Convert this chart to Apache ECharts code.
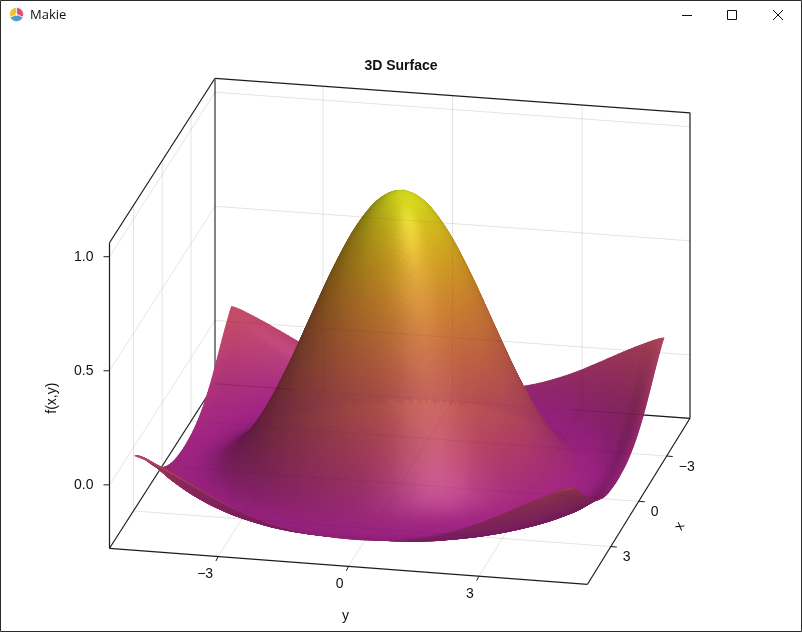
<!DOCTYPE html>
<html>
<head>
<meta charset="utf-8">
<style>
  html, body { margin: 0; padding: 0; background: #fff; }
  #main { width: 802px; height: 632px; }
</style>
<script src="https://cdn.jsdelivr.net/npm/echarts@6/dist/echarts.min.js"></script>
</head>
<body>
<div id="main"></div>
<script>
// Sampled heights f(x,y); rows follow xNodes, columns follow yNodes.
const xNodes = [-5,-4.5,-4,-3.5,-3,-2.5,-2,-1.5,-1,-0.5,0,0.5,1,1.5,2,2.5,3,3.5,4,4.5,5];
const yNodes = [-5,-4.5,-4,-3.5,-3,-2.5,-2,-1.5,-1,-0.5,0,0.5,1,1.5,2,2.5,3,3.5,4,4.5,5];
const zRows = [
  [.100,.064,.019,-.029,-.075,-.114,-.145,-.167,-.182,-.189,-.192,-.189,-.182,-.167,-.145,-.114,-.075,-.029,.019,.064,.100],
  [.064,.013,-.043,-.096,-.142,-.176,-.199,-.211,-.216,-.217,-.217,-.217,-.216,-.211,-.199,-.176,-.142,-.096,-.043,.013,.064],
  [.019,-.043,-.104,-.155,-.192,-.212,-.217,-.212,-.202,-.193,-.189,-.193,-.202,-.212,-.217,-.212,-.192,-.155,-.104,-.043,.019],
  [-.029,-.096,-.155,-.196,-.216,-.213,-.193,-.162,-.131,-.109,-.100,-.109,-.131,-.162,-.193,-.213,-.216,-.196,-.155,-.096,-.029],
  [-.075,-.142,-.192,-.216,-.210,-.177,-.124,-.063,-.007,.033,.047,.033,-.007,-.063,-.124,-.177,-.210,-.216,-.192,-.142,-.075],
  [-.114,-.176,-.212,-.213,-.177,-.109,-.019,.077,.161,.219,.239,.219,.161,.077,-.019,-.109,-.177,-.213,-.212,-.176,-.114],
  [-.145,-.199,-.217,-.193,-.124,-.019,.109,.239,.352,.428,.455,.428,.352,.239,.109,-.019,-.124,-.193,-.217,-.199,-.145],
  [-.167,-.211,-.212,-.162,-.063,.077,.239,.402,.540,.632,.665,.632,.540,.402,.239,.077,-.063,-.162,-.212,-.211,-.167],
  [-.182,-.216,-.202,-.131,-.007,.161,.352,.540,.698,.804,.841,.804,.698,.540,.352,.161,-.007,-.131,-.202,-.216,-.182],
  [-.189,-.217,-.193,-.109,.033,.219,.428,.632,.804,.919,.959,.919,.804,.632,.428,.219,.033,-.109,-.193,-.217,-.189],
  [-.192,-.217,-.189,-.100,.047,.239,.455,.665,.841,.959,1.00,.959,.841,.665,.455,.239,.047,-.100,-.189,-.217,-.192],
  [-.189,-.217,-.193,-.109,.033,.219,.428,.632,.804,.919,.959,.919,.804,.632,.428,.219,.033,-.109,-.193,-.217,-.189],
  [-.182,-.216,-.202,-.131,-.007,.161,.352,.540,.698,.804,.841,.804,.698,.540,.352,.161,-.007,-.131,-.202,-.216,-.182],
  [-.167,-.211,-.212,-.162,-.063,.077,.239,.402,.540,.632,.665,.632,.540,.402,.239,.077,-.063,-.162,-.212,-.211,-.167],
  [-.145,-.199,-.217,-.193,-.124,-.019,.109,.239,.352,.428,.455,.428,.352,.239,.109,-.019,-.124,-.193,-.217,-.199,-.145],
  [-.114,-.176,-.212,-.213,-.177,-.109,-.019,.077,.161,.219,.239,.219,.161,.077,-.019,-.109,-.177,-.213,-.212,-.176,-.114],
  [-.075,-.142,-.192,-.216,-.210,-.177,-.124,-.063,-.007,.033,.047,.033,-.007,-.063,-.124,-.177,-.210,-.216,-.192,-.142,-.075],
  [-.029,-.096,-.155,-.196,-.216,-.213,-.193,-.162,-.131,-.109,-.100,-.109,-.131,-.162,-.193,-.213,-.216,-.196,-.155,-.096,-.029],
  [.019,-.043,-.104,-.155,-.192,-.212,-.217,-.212,-.202,-.193,-.189,-.193,-.202,-.212,-.217,-.212,-.192,-.155,-.104,-.043,.019],
  [.064,.013,-.043,-.096,-.142,-.176,-.199,-.211,-.216,-.217,-.217,-.217,-.216,-.211,-.199,-.176,-.142,-.096,-.043,.013,.064],
  [.100,.064,.019,-.029,-.075,-.114,-.145,-.167,-.182,-.189,-.192,-.189,-.182,-.167,-.145,-.114,-.075,-.029,.019,.064,.100]
];

const xTicks = [-3, 0, 3];
const yTicks = [-3, 0, 3];
const zTicks = [0, 0.5, 1];
const xTickLabels = ['\u22123', '0', '3'];
const yTickLabels = ['\u22123', '0', '3'];
const zTickLabels = ['0.0', '0.5', '1.0'];

// Axis limits of the box.
const xLim = [-5.5, 5.5];
const yLim = [-5.5, 5.5];
const zLim = [-0.278, 1.061];

// Camera: pixel position of the box's left front floor corner, the pixel
// vectors along the y, x (front to back) and z box edges, and a small twist
// term that stands in for the slight perspective of the floor.
const camOrigin = [109.5, 548.3];
const camY = [478, 36];
const camX = [105.5, -164.5];
const camZ = [0, -305.5];
const camTwist = [-3, -1.5];

// Directions in data orientation (x, y, z), after box aspect scaling.
const viewDir = [0.916, 0.2, 0.349];
const lightDir = [0.3, 0.42, 0.86];
const highlightDir = [0.745, 0.37, 0.555];
// Line of sight in data units per unit of x, pointing away from the viewer.
const sightStep = [-1, -0.2186, -0.0696];
const slopeScale = ((2 / 3) / (zLim[1] - zLim[0])) / (1 / (xLim[1] - xLim[0]));
const ambient = 0.43, diffuse = 0.49, undersideDiffuse = 0.15, undersideGlow = 0.12, specular = 0.14, shininess = 32;
const surfaceAlpha = 0.88;

// Plasma colour stops; heights are mapped through the range -1..1.
const plasmaStops = [
  [0.3, 143, 13, 164], [0.4, 177, 42, 144], [0.5, 204, 71, 120], [0.6, 225, 100, 98],
  [0.7, 241, 131, 76], [0.8, 252, 166, 54], [0.9, 252, 206, 37], [1.0, 240, 249, 33]
];

function plasma(t) {
  for (let k = 1; k < plasmaStops.length; k++) {
    if (t <= plasmaStops[k][0]) {
      const a = plasmaStops[k - 1], b = plasmaStops[k];
      const f = Math.max(0, (t - a[0]) / (b[0] - a[0]));
      return [a[1] + f * (b[1] - a[1]), a[2] + f * (b[2] - a[2]), a[3] + f * (b[3] - a[3])];
    }
  }
  return plasmaStops[plasmaStops.length - 1].slice(1);
}

function project(x, y, z) {
  const u = (y - yLim[0]) / (yLim[1] - yLim[0]);
  const v = (xLim[1] - x) / (xLim[1] - xLim[0]);
  const w = (z - zLim[0]) / (zLim[1] - zLim[0]);
  return [
    camOrigin[0] + u * camY[0] + v * camX[0] + u * v * camTwist[0] + w * camZ[0],
    camOrigin[1] + u * camY[1] + v * camX[1] + u * v * camTwist[1] + w * camZ[1]
  ];
}

function unit(v) {
  const n = Math.hypot(v[0], v[1], v[2]);
  return [v[0] / n, v[1] / n, v[2] / n];
}
const dot = (a, b) => a[0] * b[0] + a[1] * b[1] + a[2] * b[2];

// Catmull-Rom weights: each sampled cell is refined so the shading stays smooth.
function crWeights(t) {
  return [
    0.5 * (-t + 2 * t * t - t * t * t),
    0.5 * (2 - 5 * t * t + 3 * t * t * t),
    0.5 * (t + 4 * t * t - 3 * t * t * t),
    0.5 * (-t * t + t * t * t)
  ];
}
const meshPerCell = 8;
const lastNode = xNodes.length - 1;
const fineCount = lastNode * meshPerCell + 1;
const fineX = [], fineY = [], fineZ = [];
for (let a = 0; a < fineCount; a++) {
  const ca = Math.min(Math.floor(a / meshPerCell), lastNode - 1);
  const ta = a / meshPerCell - ca;
  fineX.push(xNodes[ca] + ta * (xNodes[ca + 1] - xNodes[ca]));
  fineY.push(yNodes[ca] + ta * (yNodes[ca + 1] - yNodes[ca]));
  const wa = crWeights(ta);
  const row = [];
  for (let b = 0; b < fineCount; b++) {
    const cb = Math.min(Math.floor(b / meshPerCell), lastNode - 1);
    const wb = crWeights(b / meshPerCell - cb);
    let sum = 0;
    for (let p = 0; p < 4; p++) {
      const rowData = zRows[Math.max(0, Math.min(lastNode, ca - 1 + p))];
      for (let q = 0; q < 4; q++) {
        sum += wa[p] * wb[q] * rowData[Math.max(0, Math.min(lastNode, cb - 1 + q))];
      }
    }
    row.push(sum);
  }
  fineZ.push(row);
}

const L = unit(lightDir), V = unit(viewDir), H = unit(highlightDir);
const meshStep = fineX[1] - fineX[0];
const xStart = fineX[0], yStart = fineY[0];
const xEnd = fineX[fineCount - 1], yEnd = fineY[fineCount - 1];

// Lit colour of every facet, before any transparency.
const facetShade = [];
for (let a = 0; a < fineCount - 1; a++) {
  const row = [];
  for (let b = 0; b < fineCount - 1; b++) {
    const z00 = fineZ[a][b], z01 = fineZ[a][b + 1], z10 = fineZ[a + 1][b], z11 = fineZ[a + 1][b + 1];
    const dzdx = (z10 + z11 - z00 - z01) / (2 * meshStep);
    const dzdy = (z01 + z11 - z00 - z10) / (2 * meshStep);
    let n = unit([-dzdx * slopeScale, -dzdy * slopeScale, 1]);
    const facing = dot(n, V);
    let lit, spec = 0;
    if (facing < 0) {
      // Seen from below: fades out of the lit side towards a flat, dim tone.
      const depth = Math.min(1, -facing / 0.15);
      n = unit([n[0] - facing * V[0], n[1] - facing * V[1], n[2] - facing * V[2]]);
      const d = (1 - depth) * diffuse + depth * undersideDiffuse;
      lit = ambient + undersideGlow * depth + d * Math.max(0, dot(n, L));
    } else {
      lit = ambient + diffuse * Math.max(0, dot(n, L));
      spec = 255 * specular * Math.pow(Math.max(0, dot(n, H)), shininess);
    }
    const base = plasma(((z00 + z01 + z10 + z11) / 4 + 1) / 2);
    row.push([0, 1, 2].map(k => Math.min(255, base[k] * lit + spec)));
  }
  facetShade.push(row);
}

function heightAt(x, y) {
  const fa = (x - xStart) / meshStep, fb = (y - yStart) / meshStep;
  const a = Math.min(fineCount - 2, Math.floor(fa)), b = Math.min(fineCount - 2, Math.floor(fb));
  const ta = fa - a, tb = fb - b;
  return (1 - ta) * ((1 - tb) * fineZ[a][b] + tb * fineZ[a][b + 1]) +
         ta * ((1 - tb) * fineZ[a + 1][b] + tb * fineZ[a + 1][b + 1]);
}

// Follows the line of sight behind a point and composites the sheets it crosses,
// so the translucent surface shows what lies behind it without seams. Where no
// sheet lies behind, the facet keeps its own colour.
function colourBehind(x, y, z, own) {
  const step = meshStep / 2, skip = 3;
  const layers = [];
  let px = x, py = y, pz = z, wait = skip, side = 0;
  while (layers.length < 3) {
    px += sightStep[0] * step; py += sightStep[1] * step; pz += sightStep[2] * step;
    if (px < xStart || py < yStart || px > xEnd || py > yEnd) break;
    if (wait > 0) { wait--; if (wait === 0) side = Math.sign(pz - heightAt(px, py)); continue; }
    const s = Math.sign(pz - heightAt(px, py));
    if (s !== side && s !== 0) {
      const a = Math.min(fineCount - 2, Math.floor((px - xStart) / meshStep));
      const b = Math.min(fineCount - 2, Math.floor((py - yStart) / meshStep));
      layers.push(facetShade[a][b]);
      side = s; wait = skip;
    }
  }
  if (!layers.length) return own;
  let colour = layers[layers.length - 1];
  for (let i = layers.length - 2; i >= 0; i--) {
    const c = colour;
    colour = [0, 1, 2].map(k => surfaceAlpha * layers[i][k] + (1 - surfaceAlpha) * c[k]);
  }
  return colour;
}

// Facets run from the far corner to the near one, so nearer ones paint last.
const facets = [];
for (let a = 0; a < fineCount - 1; a++) {
  for (let b = 0; b < fineCount - 1; b++) {
    const corners = [
      [fineX[a], fineY[b], fineZ[a][b]], [fineX[a + 1], fineY[b], fineZ[a + 1][b]],
      [fineX[a + 1], fineY[b + 1], fineZ[a + 1][b + 1]], [fineX[a], fineY[b + 1], fineZ[a][b + 1]]
    ];
    const zMid = (corners[0][2] + corners[1][2] + corners[2][2] + corners[3][2]) / 4;
    const own = facetShade[a][b];
    const behind = colourBehind(fineX[a] + meshStep / 2, fineY[b] + meshStep / 2, zMid, own);
    const rgb = [0, 1, 2].map(k => surfaceAlpha * own[k] + (1 - surfaceAlpha) * behind[k]);
    facets.push({ corners, fill: 'rgb(' + rgb.map(Math.round).join(',') + ')' });
  }
}

// Line segments of the box, as [x1, y1, z1, x2, y2, z2] in data units.
const [x0, x1] = xLim, [y0, y1] = yLim, [z0, z1] = zLim;
const hiddenSpines = [
  [x1, y0, z0, x0, y0, z0], [x0, y0, z0, x0, y1, z0],
  [x1, y0, z0, x1, y0, z1], [x0, y1, z0, x0, y1, z1],
  [x1, y0, z1, x0, y0, z1], [x0, y0, z1, x0, y1, z1]
];
const innerSpine = [[x0, y0, z0, x0, y0, z1]];
const frontSpines = [[x1, y0, z0, x1, y1, z0], [x1, y1, z0, x0, y1, z0]];
const gridSegments = [];
xTicks.forEach(t => {
  gridSegments.push([t, y0, z0, t, y1, z0], [t, y0, z0, t, y0, z1]);
});
yTicks.forEach(t => {
  gridSegments.push([x1, t, z0, x0, t, z0], [x0, t, z0, x0, t, z1]);
});
zTicks.forEach(t => {
  gridSegments.push([x1, y0, t, x0, y0, t], [x0, y0, t, x0, y1, t]);
});
// Floor edges showing faintly through the surface.
const showThroughStrong = [[x0, y0, z0, x0, -3.7, z0], [x0, 2.8, z0, x0, y1, z0]];
const showThroughFaint = [[x0, -3.7, z0, x0, 2.8, z0]];

function segmentSeries(name, segments, stroke, width, z) {
  return {
    name, type: 'custom', coordinateSystem: 'cartesian2d', z, silent: true,
    animation: false, clip: false, progressive: 0,
    data: segments.map((s, i) => [0, 0, i]),
    renderItem(params, api) {
      const s = segments[params.dataIndex];
      const a = api.coord(project(s[0], s[1], s[2]));
      const b = api.coord(project(s[3], s[4], s[5]));
      return {
        type: 'line',
        shape: { x1: a[0], y1: a[1], x2: b[0], y2: b[1] },
        style: { stroke, lineWidth: width, fill: null }
      };
    }
  };
}

// Tick marks: anchor in data units, then a pixel offset for the outward stroke.
const tickMarks = [
  ...xTicks.map(t => ({ at: [t, y1, z0], d: [6, 0.5] })),
  ...yTicks.map(t => ({ at: [x1, t, z0], d: [-2.2, 4.5] })),
  ...zTicks.map(t => ({ at: [x1, y0, t], d: [-6, 0] }))
];

// Text placed from axis anchors.
const tickFont = '14px "Liberation Sans", sans-serif';
const textItems = [
  ...xTicks.map((t, i) => ({ at: [t, y1, z0], d: [12, 11], text: xTickLabels[i], align: 'left', font: tickFont })),
  ...yTicks.map((t, i) => ({ at: [x1, t, z0], d: [-5, 18], text: yTickLabels[i], align: 'right', font: tickFont })),
  ...zTicks.map((t, i) => ({ at: [x1, y0, t], d: [-16, 0], text: zTickLabels[i], align: 'right', font: tickFont })),
  { at: [x1, 0, z0], d: [-3, 50], text: 'y', align: 'center', font: tickFont },
  { at: [0, y1, z0], d: [41, 25], text: 'x', align: 'center', font: tickFont, rotation: 1.02 },
  { at: [x1, y0, 0.38], d: [-57, 0], text: 'f(x,y)', align: 'center', font: tickFont, rotation: Math.PI / 2 },
  { at: [x0, 0, z1], d: [-51.5, -29.5], text: '3D Surface', align: 'center', font: 'bold 14px "Liberation Sans", sans-serif' }
];

const chart = echarts.init(document.getElementById('main'), null, { renderer: 'canvas' });

chart.setOption({
  animation: false,
  backgroundColor: '#ffffff',
  grid: { left: 0, right: 0, top: 0, bottom: 0 },
  xAxis: { type: 'value', min: 0, max: 802, show: false },
  yAxis: { type: 'value', min: 0, max: 632, inverse: true, show: false },
  series: [
    segmentSeries('grid behind', gridSegments, 'rgba(0,0,0,0.055)', 1, 1),
    segmentSeries('hidden spines', hiddenSpines, '#1c1c1c', 1.2, 2),
    segmentSeries('inner spine', innerSpine, '#5a5a5a', 1.5, 2),
    {
      name: 'f(x,y)', type: 'custom', coordinateSystem: 'cartesian2d', z: 3, silent: true,
      animation: false, clip: false, progressive: 0,
      data: facets.map((f, i) => [0, 0, i]),
      renderItem(params, api) {
        const f = facets[params.dataIndex];
        return {
          type: 'polygon',
          shape: { points: f.corners.map(c => api.coord(project(c[0], c[1], c[2]))) },
          style: { fill: f.fill, stroke: f.fill, lineWidth: 1.1 }
        };
      }
    },
    segmentSeries('grid in front', gridSegments, 'rgba(0,0,0,0.055)', 1, 4),
    segmentSeries('edge through surface', showThroughStrong, 'rgba(40,10,40,0.22)', 1, 4),
    segmentSeries('edge through surface faint', showThroughFaint, 'rgba(40,10,40,0.05)', 1, 4),
    segmentSeries('front spines', frontSpines, '#1c1c1c', 1.2, 5),
    {
      name: 'ticks', type: 'custom', coordinateSystem: 'cartesian2d', z: 5, silent: true,
      animation: false, clip: false, progressive: 0,
      data: tickMarks.map((t, i) => [0, 0, i]),
      renderItem(params, api) {
        const t = tickMarks[params.dataIndex];
        const a = api.coord(project(t.at[0], t.at[1], t.at[2]));
        return {
          type: 'line',
          shape: { x1: a[0], y1: a[1], x2: a[0] + t.d[0], y2: a[1] + t.d[1] },
          style: { stroke: '#1c1c1c', lineWidth: 1, fill: null }
        };
      }
    },
    {
      name: 'text', type: 'custom', coordinateSystem: 'cartesian2d', z: 6, silent: true,
      animation: false, clip: false, progressive: 0,
      data: textItems.map((t, i) => [0, 0, i]),
      renderItem(params, api) {
        const t = textItems[params.dataIndex];
        const a = api.coord(project(t.at[0], t.at[1], t.at[2]));
        return {
          type: 'text',
          x: a[0] + t.d[0], y: a[1] + t.d[1], rotation: t.rotation || 0,
          style: {
            text: t.text, font: t.font, fill: '#111111',
            align: t.align, verticalAlign: 'middle',
            textAlign: t.align, textVerticalAlign: 'middle'
          }
        };
      }
    }
  ],
  // Window title bar and its outline.
  graphic: [
    { type: 'rect', silent: true, z: 20, shape: { x: 0.5, y: 0.5, width: 801, height: 631 },
      style: { fill: null, stroke: '#2b2b2b', lineWidth: 1 } },
    { type: 'sector', silent: true, z: 20, shape: { cx: 16.5, cy: 14.5, r: 7, r0: 1, startAngle: -Math.PI / 2, endAngle: Math.PI / 8 },
      style: { fill: '#e2506e', stroke: '#fff', lineWidth: 0.6 } },
    { type: 'sector', silent: true, z: 20, shape: { cx: 16.5, cy: 14.5, r: 7, r0: 1, startAngle: Math.PI / 8, endAngle: Math.PI * 7 / 8 },
      style: { fill: '#4a9bcf', stroke: '#fff', lineWidth: 0.6 } },
    { type: 'sector', silent: true, z: 20, shape: { cx: 16.5, cy: 14.5, r: 7, r0: 1, startAngle: Math.PI * 7 / 8, endAngle: Math.PI * 3 / 2 },
      style: { fill: '#efc02f', stroke: '#fff', lineWidth: 0.6 } },
    { type: 'text', silent: true, z: 20, x: 30, y: 15,
      style: { text: 'Makie', font: '13px "Open Sans", sans-serif', fill: '#111', align: 'left', verticalAlign: 'middle',
               textAlign: 'left', textVerticalAlign: 'middle' } },
    { type: 'line', silent: true, z: 20, shape: { x1: 682, y1: 15.5, x2: 692, y2: 15.5 }, style: { stroke: '#111', lineWidth: 1 } },
    { type: 'rect', silent: true, z: 20, shape: { x: 727.5, y: 10.5, width: 9, height: 9 }, style: { fill: null, stroke: '#111', lineWidth: 1 } },
    { type: 'line', silent: true, z: 20, shape: { x1: 773, y1: 10, x2: 783, y2: 20 }, style: { stroke: '#111', lineWidth: 1 } },
    { type: 'line', silent: true, z: 20, shape: { x1: 783, y1: 10, x2: 773, y2: 20 }, style: { stroke: '#111', lineWidth: 1 } }
  ]
});
</script>
</body>
</html>
